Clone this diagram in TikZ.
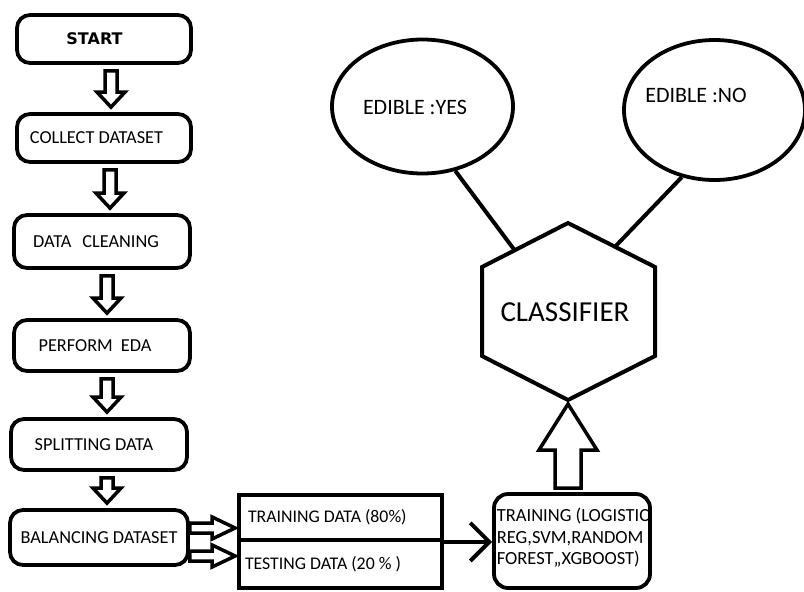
\documentclass[tikz,border=0pt]{standalone}
\usepackage{fontspec}
\setmainfont{Carlito}
\newfontfamily\startfont{DejaVu Sans}
\usetikzlibrary{calc,shapes.geometric,arrows.meta}

% hollow block arrow pointing down between two stacked boxes (#3 = x of its axis)
\newcommand\downflow[3]{%
  \draw[hollow] let \p1=(#1.south), \p2=(#2.north) in
    (#3pt-6pt,\y1-6pt) -- (#3pt-6pt,\y2+20pt) -- (#3pt-14pt,\y2+20pt)
    -- (#3pt,\y2+5pt) -- (#3pt+14pt,\y2+20pt) -- (#3pt+6pt,\y2+20pt)
    -- (#3pt+6pt,\y1-6pt) -- cycle;}
% hollow block arrow pointing right, #1 = vertical offset from the box centre
\newcommand\rightflow[1]{%
  \draw[hollow] let \p1=(balancing.east), \p2=(train.west) in
    (\x1,\y1+#1pt+5pt) -- (\x2-25pt,\y1+#1pt+5pt) -- (\x2-25pt,\y1+#1pt+11pt)
    -- (\x2-2pt,\y1+#1pt) -- (\x2-25pt,\y1+#1pt-11pt) -- (\x2-25pt,\y1+#1pt-5pt)
    -- (\x1,\y1+#1pt-5pt) -- cycle;}

\begin{document}
\begin{tikzpicture}[x=1pt,y=-1pt,
  every node/.style={font=\fontsize{18.3}{21.5}\selectfont},
  stepbox/.style={draw, line width=3.8pt, rounded corners=13pt, inner sep=0pt, align=center},
  databox/.style={draw, line width=3.8pt, minimum width=203pt, inner sep=0pt,
                  font=\fontsize{17.8}{21}\selectfont},
  hollow/.style={draw, line width=3.5pt, fill=white, line join=miter},
  outcome/.style={draw, ellipse, line width=3.8pt, minimum width=181pt, minimum height=134pt, inner sep=0pt},
  link/.style={line width=4pt},
  bigtext/.style={font=\fontsize{22}{26}\selectfont},
]
\fill[white] (0,0) rectangle (804,592);
\useasboundingbox (0,0) rectangle (804,592);

% pipeline on the left
\node[stepbox, minimum width=174pt, minimum height=48pt, font=\startfont\bfseries\fontsize{16}{19}\selectfont]
  (start) at (104,39) {START\hspace*{19pt}};
\node[stepbox, minimum width=174pt, minimum height=48pt] (collect) at (104,138) {COLLECT DATASET\hspace*{15pt}};
\node[stepbox, minimum width=176pt, minimum height=53pt] (cleaning) at (102,241.5) {DATA\hspace{11pt}CLEANING\hspace*{12pt}};
\node[stepbox, minimum width=176pt, minimum height=51pt] (eda) at (102,345.5) {PERFORM\hspace{8pt}EDA\hspace*{14pt}};
\node[stepbox, minimum width=176pt, minimum height=51pt] (split) at (99,444.5) {SPLITTING DATA\hspace*{10pt}};
\node[stepbox, minimum width=178pt, minimum height=55pt] (balancing) at (99,537.5) {BALANCING DATASET};

\downflow{start}{collect}{111}
\downflow{collect}{cleaning}{110}
\downflow{cleaning}{eda}{107}
\downflow{eda}{split}{107}
\downflow{split}{balancing}{107}

% train / test split
\node[databox, minimum height=45pt] (train) at (340.5,517.5) {\makebox[185pt][l]{TRAINING DATA (80\%)}};
\node[databox, minimum height=48pt] (test) at (340.5,564) {\makebox[185pt][l]{\hspace*{-3pt}TESTING DATA (20 \% )}};

\rightflow{9.5}
\rightflow{-18.5}

% model training
\node[stepbox, rounded corners=14pt, minimum width=156pt, minimum height=94pt, align=flush left,
      font=\fontsize{18.5}{21.5}\selectfont]
  (training) at (572,541) {\hspace*{2pt}TRAINING (LOGISTIC\\\hspace*{2pt}REG,SVM,RANDOM\\\hspace*{2pt}FOREST,,XGBOOST)\\[-12pt]\mbox{}};

\draw[link, -{Straight Barb[length=19pt, width=38pt]}] (train.south east) -- (train.south east -| training.west);

% classifier
\coordinate (h1) at (568,223);
\coordinate (h2) at (482,267);
\coordinate (h3) at (482,356);
\coordinate (h4) at (568,400);
\coordinate (h5) at (655,356);
\coordinate (h6) at (655,267);
\draw[line width=4pt, line join=miter] (h1) -- (h2) -- (h3) -- (h4) -- (h5) -- (h6) -- cycle;
\node[font=\fontsize{29}{34}\selectfont] (clf) at (565,312) {CLASSIFIER};

\draw[hollow] let \p1=(training.north), \p2=(h4) in
  (\x2-13pt,\y1+4pt) -- (\x2-13pt,\y2-50pt) -- (\x2-29pt,\y2-50pt) -- (\x2,\y2-4pt)
  -- (\x2+29pt,\y2-50pt) -- (\x2+13pt,\y2-50pt) -- (\x2+13pt,\y1+4pt) -- cycle;

% outcomes
\node[outcome] (yes) at (422.5,106.5) {};
\node[outcome, minimum height=140pt] (no) at (714.5,110) {};
\node[bigtext] (yestext) at (415,107) {EDIBLE :YES};
\node[bigtext] (notext) at (696,95) {EDIBLE :NO};

\draw[link] (yes.-63) -- ($(h2)!0.38!(h1)$);
\draw[link] (no.-116) -- ($(h6)!0.46!(h1)$);
\end{tikzpicture}
\end{document}
